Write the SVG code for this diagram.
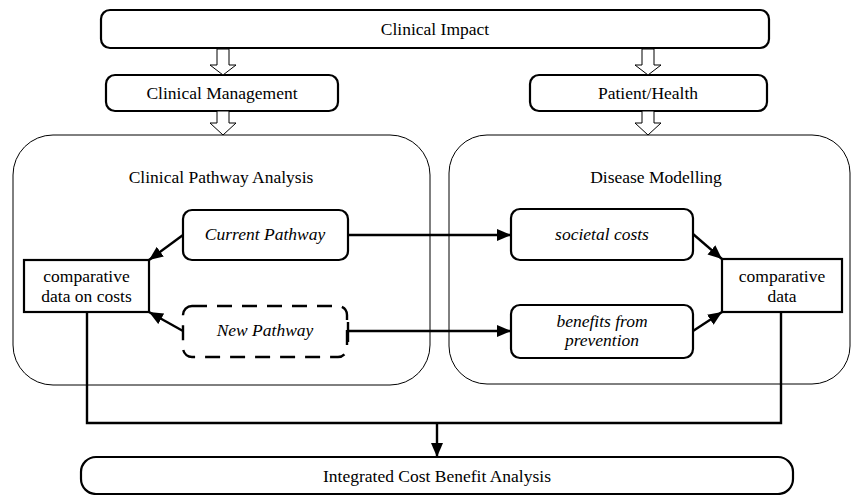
<svg xmlns="http://www.w3.org/2000/svg" width="851" height="495" viewBox="0 0 851 495">
  <defs>
    <marker id="ah" markerUnits="userSpaceOnUse" markerWidth="15" markerHeight="13" refX="14" refY="6" orient="auto">
      <path d="M0,0 L14,6 L0,12 Z" fill="#000"/>
    </marker>
    <style>
      text { font-family: "Liberation Serif", "DejaVu Serif", "Noto Serif", serif; font-size: 17.5px; fill: #000; text-anchor: middle; }
      .it { font-style: italic; }
      .box { fill: #fff; stroke: #000; stroke-width: 2.2; }
      .dash { fill: #fff; stroke: #000; stroke-width: 2.4; stroke-dasharray: 15 10; }
      .cont { fill: none; stroke: #000; stroke-width: 1; }
      .hollow { fill: #fff; stroke: #000; stroke-width: 1; }
      .conn { fill: none; stroke: #000; stroke-width: 2.4; }
    </style>
  </defs>

  <g id="clinical-pathway-analysis">
    <rect class="cont" x="13" y="135" width="417" height="250" rx="40" ry="40"/>
    <text x="221" y="183" font-family="Liberation Serif, serif">Clinical Pathway Analysis</text>
  </g>
  <g id="disease-modelling">
    <rect class="cont" x="449" y="135" width="401" height="249" rx="38" ry="38"/>
    <text x="656" y="183" font-family="Liberation Serif, serif">Disease Modelling</text>
  </g>

  <g id="clinical-impact">
    <rect class="box" x="101" y="10" width="668" height="38" rx="9"/>
    <text x="435" y="35" font-family="Liberation Serif, serif">Clinical Impact</text>
  </g>
  <g id="clinical-management">
    <rect class="box" x="106" y="75" width="232" height="36" rx="9"/>
    <text x="222" y="99" font-family="Liberation Serif, serif">Clinical Management</text>
  </g>
  <g id="patient-health">
    <rect class="box" x="530" y="75" width="237" height="36" rx="9"/>
    <text x="648" y="99" font-family="Liberation Serif, serif">Patient/Health</text>
  </g>

  <g id="current-pathway">
    <rect class="box" x="183" y="210" width="165" height="50" rx="9"/>
    <text class="it" x="265" y="240" font-family="Liberation Serif, serif">Current Pathway</text>
  </g>
  <g id="new-pathway">
    <rect class="dash" x="183" y="306" width="164" height="51" rx="9"/>
    <text class="it" x="265" y="336" font-family="Liberation Serif, serif">New Pathway</text>
  </g>
  <g id="comparative-data-on-costs">
    <rect class="box" x="24" y="260" width="125" height="52"/>
    <text x="86.5" y="282" font-family="Liberation Serif, serif">comparative</text>
    <text x="86.5" y="302" font-family="Liberation Serif, serif">data on costs</text>
  </g>
  <g id="societal-costs">
    <rect class="box" x="511" y="209" width="182" height="51" rx="9"/>
    <text class="it" x="602" y="240" font-family="Liberation Serif, serif">societal costs</text>
  </g>
  <g id="benefits-from-prevention">
    <rect class="box" x="511" y="305" width="182" height="53" rx="9"/>
    <text class="it" x="602" y="327" font-family="Liberation Serif, serif">benefits from</text>
    <text class="it" x="602" y="346" font-family="Liberation Serif, serif">prevention</text>
  </g>
  <g id="comparative-data">
    <rect class="box" x="722" y="259" width="120" height="53"/>
    <text x="782" y="282" font-family="Liberation Serif, serif">comparative</text>
    <text x="782" y="302" font-family="Liberation Serif, serif">data</text>
  </g>
  <g id="integrated-cost-benefit-analysis">
    <rect class="box" x="81" y="457" width="712" height="37" rx="15"/>
    <text x="437" y="482" font-family="Liberation Serif, serif">Integrated Cost Benefit Analysis</text>
  </g>

  <g id="connectors">
    <polygon class="hollow" points="217,49 229,49 229,65 236,65 223,75 210,65 217,65"/>
    <polygon class="hollow" points="642,49 654,49 654,65 661,65 648,75 635,65 642,65"/>
    <polygon class="hollow" points="217,111 229,111 229,123 236,123 223,135 210,123 217,123"/>
    <polygon class="hollow" points="642,111 654,111 654,123 661,123 648,135 635,123 642,123"/>
    <line class="conn" x1="183" y1="235" x2="149" y2="260" marker-end="url(#ah)"/>
    <line class="conn" x1="183" y1="331" x2="149" y2="312" marker-end="url(#ah)"/>
    <line class="conn" x1="348" y1="235" x2="511" y2="235" marker-end="url(#ah)"/>
    <line class="conn" x1="348" y1="331" x2="511" y2="331" marker-end="url(#ah)"/>
    <line class="conn" x1="348" y1="322" x2="348" y2="342"/>
    <line class="conn" x1="693" y1="234" x2="722" y2="259" marker-end="url(#ah)"/>
    <line class="conn" x1="693" y1="331" x2="722" y2="312" marker-end="url(#ah)"/>
    <path class="conn" d="M87,312 V423 H781 V312"/>
    <line class="conn" x1="437" y1="423" x2="437" y2="457" marker-end="url(#ah)"/>
  </g>
</svg>
